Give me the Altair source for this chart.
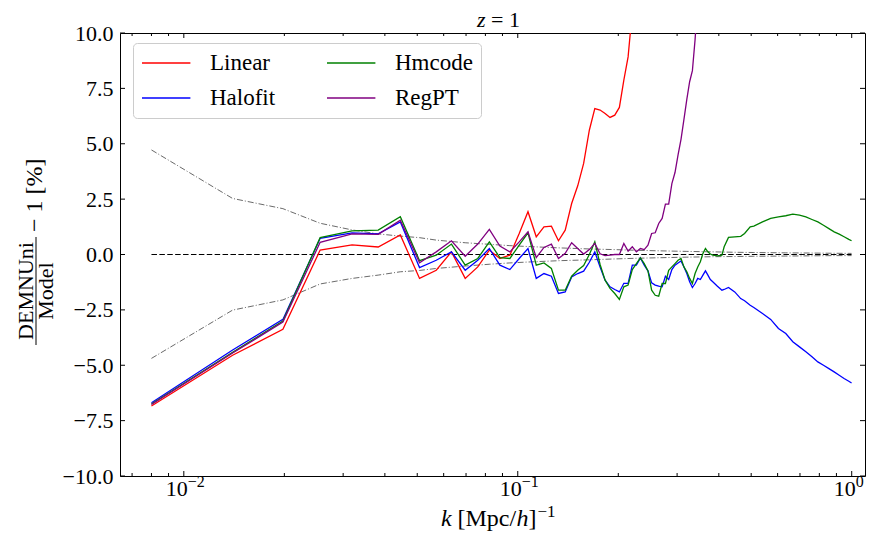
import altair as alt
import pandas as pd

SERIF = "Liberation Serif"

# ---------------- data ----------------
k_all = [0.0080, 0.0140, 0.0198, 0.0256, 0.0319, 0.0382, 0.0445, 0.0508, 0.0570, 0.0633,
         0.0696, 0.0759, 0.0822, 0.0884, 0.0947, 0.1010, 0.1073, 0.1136, 0.1198, 0.1261,
         0.1324, 0.1387, 0.1450, 0.1512, 0.1575, 0.1638, 0.1701, 0.1764, 0.1826, 0.1889,
         0.1952, 0.2015, 0.2078, 0.2140, 0.2203, 0.2266, 0.2329, 0.2392, 0.2454, 0.2517,
         0.2580, 0.2643, 0.2706, 0.2768, 0.2831, 0.2894, 0.2957, 0.3020, 0.3082, 0.3145,
         0.3208, 0.3271, 0.3334, 0.3396, 0.3459, 0.3522, 0.3585, 0.3648, 0.3710, 0.3773,
         0.3836, 0.3962, 0.4087, 0.4150, 0.4276, 0.4464, 0.4652, 0.4778, 0.4966, 0.5092,
         0.5406, 0.5720, 0.6034, 0.6348, 0.6662, 0.6976, 0.7290, 0.7604, 0.7918, 0.8232,
         0.8546, 0.8860, 0.9174, 0.9488, 0.9802, 0.9990]

halofit = [-6.69, -4.31, -2.93, 0.73, 0.98, 0.93, 1.47, -0.59, -0.26, 0.12,
           -0.71, -0.26, 0.27, -0.48, -0.68, -0.18, 0.27, -1.08, -0.86, -0.98,
           -1.76, -1.69, -1.01, -0.86, -0.75, -0.35, 0.12, -0.56, -1.16, -1.46,
           -1.58, -1.69, -1.30, -1.30, -0.48, -0.48, -0.15, -0.48, -0.74, -1.28,
           -1.38, -1.43, -1.46, -0.98, -1.13, -0.68, -0.48, -0.38, -0.29, -0.56,
           -0.86, -1.23, -1.49, -1.31, -1.08, -1.13, -0.93, -0.74, -0.93, -1.13,
           -1.23, -1.43, -1.61, -1.58, -1.49, -1.69, -1.99, -2.09, -2.29, -2.39,
           -2.66, -2.93, -3.34, -3.57, -3.94, -4.17, -4.39, -4.62, -4.85, -5.00,
           -5.15, -5.30, -5.45, -5.60, -5.72, -5.80]

hmcode = [-6.75, -4.42, -3.00, 0.76, 1.07, 1.10, 1.71, -0.28, -0.03, 0.47,
          -0.48, -0.18, 0.57, -0.14, -0.18, 0.42, 0.98, -0.48, -0.38, -0.63,
          -1.61, -1.61, -0.98, -0.71, -0.50, 0.00, 0.57, -0.45, -1.16, -1.53,
          -1.76, -2.03, -1.46, -1.38, -0.68, -0.41, -0.15, -0.41, -0.74, -1.61,
          -1.84, -1.88, -1.31, -1.31, -0.71, -0.56, -0.41, -0.26, -0.18, -0.56,
          -0.78, -1.08, -1.31, -0.86, -0.56, -0.33, 0.05, 0.27, 0.12, 0.02,
          -0.03, -0.06, -0.03, 0.35, 0.77, 0.80, 0.82, 0.95, 1.25, 1.28,
          1.47, 1.63, 1.70, 1.75, 1.82, 1.78, 1.70, 1.58, 1.47, 1.32,
          1.17, 1.02, 0.92, 0.80, 0.68, 0.62]

regpt = [-6.77, -4.45, -3.05, 0.55, 0.93, 0.91, 1.55, -0.37, 0.12, 0.62,
         -0.08, 0.47, 1.13, 0.38, 0.12, 0.57, 1.02, -0.14, 0.32, 0.47,
         -0.18, 0.05, 0.53, 0.27, 0.02, 0.22, 0.50, 0.03, -0.05, -0.03,
         0.00, 0.00, 0.50, 0.15, 0.35, 0.12, 0.27, 0.22, 0.42, 0.95,
         0.98, 1.40, 1.63, 2.27, 2.27, 3.20, 3.70, 4.50, 5.20, 6.10,
         7.00, 7.80, 8.30, 9.70, 11.50]

linear = [-6.84, -4.55, -3.38, 0.20, 0.43, 0.34, 0.88, -1.08, -0.71, 0.12,
          -1.08, -0.56, 0.20, -0.18, -0.03, 0.95, 1.93, 0.80, 1.25, 1.28,
          0.62, 1.10, 2.30, 3.10, 4.11, 5.61, 6.59, 6.52, 6.37, 6.19,
          6.29, 6.64, 7.87, 8.92, 11.00]

env_k = [0.0080, 0.0140, 0.0198, 0.0256, 0.0319, 0.0382, 0.0445, 0.0508, 0.0570, 0.0696,
         0.0822, 0.0947, 0.1073, 0.1324, 0.1638, 0.1952, 0.2266, 0.2580, 0.3208, 0.3836,
         0.4464, 0.5092, 0.6348, 0.7604, 0.8860, 0.9990]
env_upper = [4.72, 2.53, 2.07, 1.41, 1.11, 0.93, 0.83, 0.76, 0.65, 0.53,
             0.46, 0.40, 0.36, 0.30, 0.25, 0.22, 0.19, 0.17, 0.14, 0.12,
             0.10, 0.09, 0.075, 0.065, 0.055, 0.05]
env_lower = [-4.69, -2.51, -2.05, -1.33, -1.08, -0.93, -0.78, -0.72, -0.63, -0.52,
             -0.44, -0.38, -0.34, -0.28, -0.24, -0.20, -0.17, -0.15, -0.12, -0.10,
             -0.09, -0.08, -0.07, -0.06, -0.05, -0.05]

zero_k = [0.0080, 0.9990]
zero_v = [0.0, 0.0]

models = ["Linear", "Halofit", "Hmcode", "RegPT"]
model_colors = ["#ff0000", "#0000ff", "#008000", "#800080"]

x_major = [0.01, 0.1, 1.0]
x_exponents = ["\u22122", "\u22121", "0"]
x_minor = [0.007, 0.008, 0.009, 0.02, 0.03, 0.04, 0.05, 0.06, 0.07, 0.08, 0.09,
           0.2, 0.3, 0.4, 0.5, 0.6, 0.7, 0.8, 0.9]
y_major = [-10.0, -7.5, -5.0, -2.5, 0.0, 2.5, 5.0, 7.5, 10.0]

# ---------------- tables ----------------
series = {"Linear": linear, "Halofit": halofit, "Hmcode": hmcode, "RegPT": regpt}
rows = []
for name in models:
    for k, v in zip(k_all, series[name]):
        rows.append({"k": k, "v": v, "model": name})
df = pd.DataFrame(rows)

env_rows = []
for k, u, l in zip(env_k, env_upper, env_lower):
    env_rows.append({"k": k, "v": u, "side": "up"})
    env_rows.append({"k": k, "v": l, "side": "lo"})
env_df = pd.DataFrame(env_rows)
zero_df = pd.DataFrame({"k": zero_k, "v": zero_v})
xmaj_df = pd.DataFrame({"k": x_major, "e": x_exponents})
xmin_df = pd.DataFrame({"k": x_minor})
ymaj_df = pd.DataFrame({"v": y_major})
one = pd.DataFrame({"a": [0]})

W, H = 745, 443

xscale = alt.Scale(type="log", domain=[0.00644, 1.096], nice=False)
yscale = alt.Scale(domain=[-10, 10], nice=False, zero=False)
yaxis = alt.Axis(values=y_major, format=".1f", ticks=False, tickSize=0, domain=False,
                 grid=False, labelPadding=7, labelFont=SERIF, labelFontSize=22,
                 labelColor="black", title=None)
X = alt.X("k:Q", scale=xscale, axis=None)
Y = alt.Y("v:Q", scale=yscale, axis=yaxis)

cscale = alt.Scale(domain=models, range=model_colors)
leg = alt.Legend(title=None, orient="none", legendX=13, legendY=10, columns=2,
                 symbolType="M-1,0H3.4", symbolSize=484, symbolStrokeWidth=1.5,
                 labelFont=SERIF, labelFontSize=23, labelColor="black", labelOffset=45,
                 columnPadding=48, rowPadding=11, padding=8, strokeColor="#cccccc",
                 fillColor="white", cornerRadius=4)

layers = []
layers.append(alt.Chart(zero_df).mark_line(color="black", strokeWidth=1.2,
                                             strokeDash=[5.5, 2.4]).encode(x=X, y=Y))
layers.append(alt.Chart(env_df).mark_line(color="#444444", strokeWidth=0.8,
                                            strokeDash=[6, 2, 1, 2]).encode(
    x=X, y=Y, detail="side:N"))
for name in models:
    layers.append(alt.Chart(df).transform_filter(alt.datum.model == name)
                  .mark_line(strokeWidth=1.3, clip=True)
                  .encode(x=X, y=Y, color=alt.Color("model:N", scale=cscale, legend=leg)))

# inward ticks on all four sides
tick = dict(color="black", strokeWidth=1)
layers.append(alt.Chart(xmaj_df).mark_rule(**tick).encode(x=X, y=alt.value(H), y2=alt.value(H - 5)))
layers.append(alt.Chart(xmaj_df).mark_rule(**tick).encode(x=X, y=alt.value(0), y2=alt.value(5)))
layers.append(alt.Chart(xmin_df).mark_rule(**tick).encode(x=X, y=alt.value(H), y2=alt.value(H - 3)))
layers.append(alt.Chart(xmin_df).mark_rule(**tick).encode(x=X, y=alt.value(0), y2=alt.value(3)))
layers.append(alt.Chart(ymaj_df).mark_rule(**tick).encode(y=Y, x=alt.value(0), x2=alt.value(5)))
layers.append(alt.Chart(ymaj_df).mark_rule(**tick).encode(y=Y, x=alt.value(W), x2=alt.value(W - 5)))

# x tick labels 10^n
layers.append(alt.Chart(xmaj_df).mark_text(text="10", align="right", baseline="alphabetic", dx=4,
                                            font=SERIF, fontSize=22, color="black")
              .encode(x=X, y=alt.value(H + 20)))
layers.append(alt.Chart(xmaj_df).mark_text(align="left", baseline="alphabetic", dx=4,
                                            font=SERIF, fontSize=16, color="black")
              .encode(x=X, y=alt.value(H + 11), text="e:N"))

def txt(s, x, y, size=24, style="normal", align="left", angle=0):
    return alt.Chart(one).mark_text(text=s, align=align, baseline="alphabetic", font=SERIF,
                                     fontSize=size, fontStyle=style, color="black",
                                     angle=angle).encode(x=alt.value(x), y=alt.value(y))

# title  z = 1
layers.append(txt("z", 357, -6, size=22, style="italic"))
layers.append(txt("= 1", 371, -6, size=22))
# x-axis title  k [Mpc/h]^-1
layers.append(txt("k", 321, 493, style="italic"))
layers.append(txt("[Mpc/", 337.5, 493))
layers.append(txt("h", 396.6, 493, style="italic"))
layers.append(txt("]", 408.6, 493))
layers.append(txt("\u22121", 417.5, 484, size=17))
# y-axis title  DEMNUni/Model - 1 [%]
layers.append(txt("DEMNUni", -87, 258, size=22, align="center", angle=270))
layers.append(txt("Model", -67, 258, size=22, align="center", angle=270))
layers.append(alt.Chart(one).mark_rule(color="black", strokeWidth=1).encode(
    x=alt.value(-84), y=alt.value(204), y2=alt.value(312)))
layers.append(txt("\u2212\u00a01\u00a0[%]", -78, 199, align="left", angle=270))

chart = alt.layer(*layers).properties(
    width=W, height=H,
    padding={"left": 112, "top": 25, "right": 2, "bottom": 62},
    autosize=alt.AutoSizeParams(type="none"),
).configure_view(stroke="black", strokeWidth=1)

chart.save("out.html", embed_options={"renderer": "svg", "actions": False})
